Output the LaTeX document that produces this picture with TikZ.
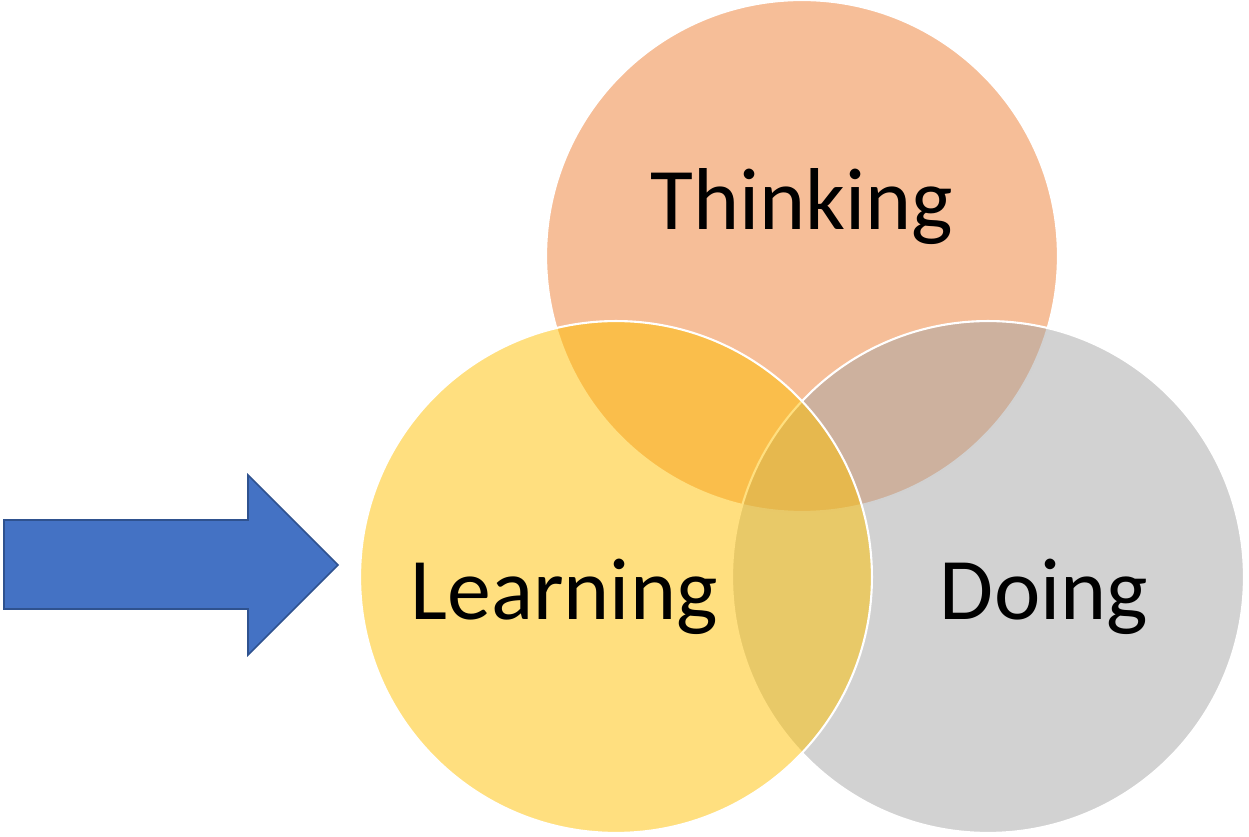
\documentclass[tikz,border=0pt]{standalone}
\usepackage{fontspec}
\setmainfont{Carlito}
\usepackage{tikz}

\definecolor{thinkorange}{HTML}{ED7D31}
\definecolor{learnyellow}{HTML}{FFC000}
\definecolor{doinggray}{HTML}{A5A5A5}
\definecolor{arrowblue}{HTML}{4472C4}
\definecolor{arrowedge}{HTML}{2F528F}

\tikzset{
  venn/.style={circle, draw=white, line width=1.2pt, fill opacity=0.5,
    inner sep=0pt, minimum size=10.24cm},
  word/.style={anchor=base, font=\fontsize{50}{60}\selectfont}
}

\begin{document}
\begin{tikzpicture}[x=0.02cm, y=-0.02cm]
        \useasboundingbox (0,0) rectangle (1249,837);
        % the three sets, Doing under Learning
        \node[venn, fill=thinkorange] (think) at (802,256) {};
        \node[venn, fill=doinggray] (doing) at (988,577) {};
        \node[venn, fill=learnyellow] (learn) at (616,577) {};
        \node[word] (thinktext) at (802,230) {Thinking};
        \node[word] (learntext) at (564,620) {Learning};
        \node[word] (doingtext) at (1044,620) {Doing};
        % block arrow into Learning
        \draw[fill=arrowblue, draw=arrowedge, line width=0.9pt, line join=miter]
          (4,520) -- (248,520) -- (248,475) -- (338,565) -- (248,655)
          -- (248,609) -- (4,609) -- cycle;
      \end{tikzpicture}
\end{document}
